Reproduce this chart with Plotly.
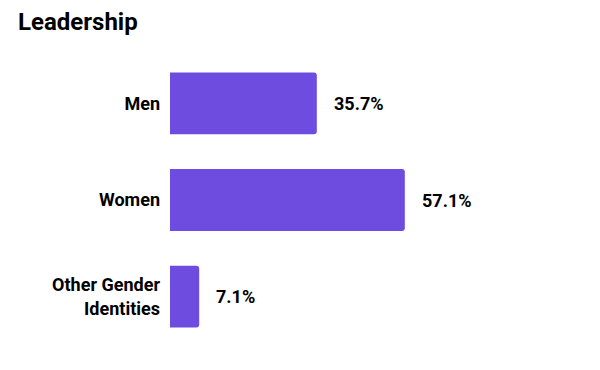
import plotly.graph_objects as go

categories = ["Men", "Women", "Other Gender<br>Identities"]
values = [35.7, 57.1, 7.1]
value_labels = ["35.7%", "57.1%", "7.1%"]

fig = go.Figure()
fig.add_trace(go.Bar(
    x=values, y=categories, orientation="h",
    marker=dict(color="#6e4ce0", line=dict(width=0)),
    hoverinfo="skip",
))
for v, c, t in zip(values, categories, value_labels):
    fig.add_annotation(x=v, y=c, text=t, showarrow=False, xanchor="left",
                       xshift=15, font=dict(family="Roboto", size=18, color="#000000", weight="bold"))

fig.update_layout(
    width=600, height=370,
    margin=dict(l=162, r=109, t=47, b=33),
    paper_bgcolor="white", plot_bgcolor="white",
    bargap=0.36,
    barcornerradius=3,
    showlegend=False,
    title=dict(text="<b>Leadership</b>", x=10/600, xanchor="left", y=1-14/370, yanchor="middle",
               font=dict(family="Roboto", size=24, color="#000000")),
    xaxis=dict(range=[0, 80], visible=False, fixedrange=True),
    yaxis=dict(autorange="reversed", showgrid=False, showline=False, zeroline=False,
               ticks="", ticklabelstandoff=9,
               tickfont=dict(family="Roboto", size=18, color="#000000", weight="bold")),
)
fig.write_html("out.html")
